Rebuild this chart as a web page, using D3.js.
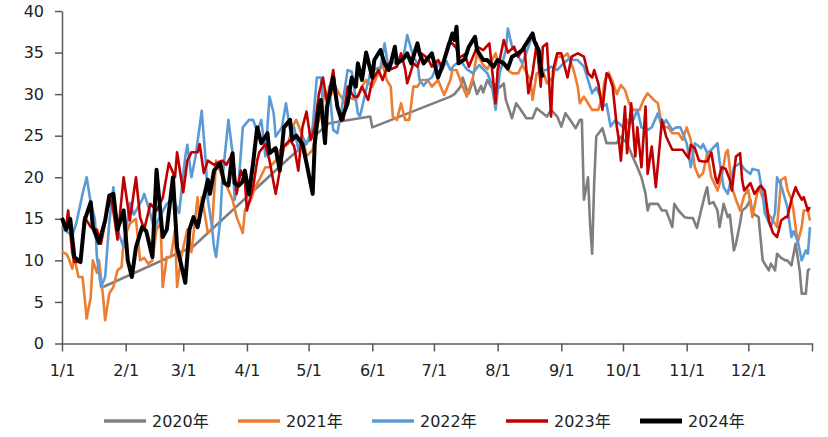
<!DOCTYPE html>
<html>
<head>
<meta charset="utf-8">
<script src="https://cdn.jsdelivr.net/npm/d3@7"></script>
<style>
body { margin: 0; background: #fff; }
text { font-family: "DejaVu Sans", "Noto Sans CJK SC", sans-serif; }
</style>
</head>
<body>
<div id="chart"></div>
<script>
// each point is [day of year (0 = 1/1), value]
var s2020 = [[20,6.8],[64,11.7],[110,22.2],[130,26.5],[150,27.3],[151,26],[189,29.7],[191,30],[194,30.9],[195,32],[197,30.5],[198,30.1],[200,31.7],[202,30],[204,31],[205,30.2],[207,31.7],[209,30.8],[211,31.2],[213,30.8],[215,31.3],[216,29.3],[219,27.1],[221,28.9],[223,28.2],[226,27.1],[229,27.1],[231,28.3],[234,27.7],[236,27.3],[238,28.1],[241,27.3],[243,26.1],[245,27.7],[247,27],[250,25.9],[252,26.9],[253,26.9],[254,17.3],[256,20],[257,14.4],[258,10.8],[259,19.3],[260,24.9],[263,25.9],[265,24.1],[268,24.1],[270,24.1],[272,24.9],[275,24.1],[277,22.9],[280,21.2],[282,20],[284,18],[285,16],[286,16.8],[290,16.8],[292,16],[294,16],[297,14],[298,16.8],[300,16],[303,15.2],[305,15.1],[307,15.1],[309,13.9],[311,16],[313,18],[314,18.8],[315,16.8],[317,17],[319,16],[320,14],[322,16.8],[324,15.2],[325,15.5],[327,11.2],[328,12],[330,14.5],[331,16],[333,16.4],[335,17.3],[336,15.7],[339,15.2],[341,10],[342,9.6],[344,8.8],[345,9.6],[347,8.8],[348,10.8],[350,10.3],[352,10],[353,10],[355,9.4],[357,12],[359,8.8],[360,6],[362,6],[363,8.8],[364,9]];

var s2021 = [[0,11],[2,10.8],[3,10.4],[5,9],[6,10.4],[8,8],[10,8],[11,5.6],[12,3],[14,5.6],[15,10],[17,8.5],[18,10],[20,5.6],[21,2.8],[23,6],[25,6.8],[27,8.8],[29,9.2],[30,12.4],[33,14.4],[36,15],[38,10],[40,10.3],[42,9.6],[44,10],[46,13.7],[48,14.5],[49,6.8],[51,10.4],[53,10.4],[55,13.7],[56,6.8],[58,10.4],[61,13.7],[63,11],[66,17.6],[67,14.5],[68,17.6],[70,14.8],[71,13.3],[73,13.8],[75,22],[78,20],[80,19],[83,17.3],[85,15.2],[88,13.3],[89,16],[92,17.3],[94,18.8],[96,19.7],[99,21.2],[101,21.2],[104,22],[106,23.3],[110,24],[112,26],[114,26.9],[117,25],[119,22.5],[122,23.3],[124,26],[126,27.7],[128,30.5],[130,29.5],[133,30.9],[135,30],[138,28.9],[140,29.6],[143,29.3],[146,30.9],[148,31.7],[151,30.9],[153,32],[156,33.7],[158,31.7],[160,30.9],[161,27.3],[163,26.9],[165,28.9],[167,26.9],[169,26.9],[171,30.9],[173,30.9],[175,31.7],[178,31.7],[180,30.9],[183,31.7],[186,29.9],[189,31.7],[190,32.9],[192,32.9],[195,30.9],[197,29.7],[200,32],[202,34.9],[205,33.5],[207,33],[211,34.9],[213,32.9],[215,33.8],[217,32.9],[219,32.5],[222,32.5],[224,33.5],[228,31.7],[229,29.3],[231,32.5],[234,32.9],[236,31.3],[239,32],[241,34.5],[244,34.5],[246,34.9],[249,32.9],[251,30.9],[252,28.9],[254,29.7],[256,28.9],[258,28.1],[261,28.1],[263,29.7],[264,31.5],[266,32.6],[268,31.5],[270,30],[272,31.1],[274,30.5],[276,28.9],[278,28.1],[281,28.1],[283,29.3],[285,30.1],[288,29.3],[290,28.9],[292,26.1],[295,26],[297,25.3],[300,25.3],[302,24.5],[304,26],[306,24.5],[308,21.2],[310,20],[312,20.5],[314,22.9],[316,20],[318,19],[319,18.4],[321,20],[323,22.9],[324,23.3],[326,18.8],[328,17.3],[330,16],[332,17.8],[334,18.5],[336,15.2],[337,16.5],[339,18.8],[341,17.6],[343,15.7],[345,15.2],[348,14],[350,19.7],[352,20],[353,18.5],[355,17.3],[356,16],[358,12.1],[360,14],[361,16],[363,16],[364,14.8]];

var s2022 = [[0,14],[1,13.7],[5,13],[7,14.5],[10,18],[12,20],[14,16.9],[16,15],[17,10.4],[19,6.8],[21,8],[23,14.5],[25,18.8],[27,13.6],[30,11.6],[33,16.9],[35,15.5],[39,17.3],[40,18],[42,16.5],[45,13.7],[47,15],[51,16.8],[54,17.5],[57,15.7],[60,22.5],[61,23.9],[63,20],[65,22.5],[68,28],[70,21.7],[71,17.3],[73,14],[74,11.6],[75,10.4],[77,14.8],[78,19.7],[81,26.9],[83,22.9],[84,17.3],[86,19.5],[88,26],[91,26.9],[93,26.9],[95,25.5],[97,26.9],[99,22.5],[101,29.7],[103,27.7],[104,24.9],[107,26],[109,28.9],[111,25.7],[113,26],[115,23.3],[117,24.9],[119,24],[122,26],[124,32],[126,32],[128,24.9],[130,30.9],[132,25.7],[134,25.3],[136,28],[139,32.9],[141,32.7],[144,27.7],[145,27.3],[148,30.5],[150,32.5],[152,33],[155,33.2],[157,36.1],[159,32.9],[161,34],[163,33.5],[166,34.2],[168,37.1],[171,34.5],[173,33.7],[174,31.7],[176,31],[178,31.7],[180,32],[183,33.7],[185,32.9],[187,34],[189,32.9],[191,33.5],[194,34],[197,33],[200,32.5],[203,33.5],[207,32.5],[209,31.3],[211,28.1],[213,32.5],[216,35.3],[217,37.9],[219,35.7],[221,35],[224,33.7],[226,35],[229,37.1],[231,35.7],[234,32.9],[236,32.9],[238,33.3],[241,32.9],[244,33.7],[247,34.3],[249,34.1],[251,34.1],[254,33.3],[256,31.7],[258,30.1],[260,30.8],[262,29.7],[263,28.5],[265,28.8],[267,26.1],[269,26.8],[271,26.5],[273,26],[275,26.9],[276,26.3],[278,26.9],[280,28.1],[282,26],[285,25.7],[287,26],[290,27.7],[292,26],[294,26.9],[297,25.7],[299,26],[301,26],[304,24.1],[306,21.2],[308,24.1],[311,23.5],[312,24],[314,22.9],[316,23.3],[319,24.1],[320,22],[322,18.8],[324,18],[327,21.2],[330,21.7],[332,21],[335,20.4],[336,21],[339,20.8],[341,18],[342,15.7],[345,14],[347,15.7],[348,20],[350,19],[353,16.4],[355,12.8],[356,13.5],[358,12.4],[360,10],[362,11.2],[363,10.8],[364,14]];

var s2023 = [[0,15.1],[2,14],[3,16],[5,10.9],[6,9.8],[9,9.8],[11,15.2],[14,14],[17,13.7],[19,12],[22,16],[24,17.6],[27,12.5],[30,20],[33,14.8],[36,20],[38,15.2],[40,13.7],[43,16.8],[46,16],[49,17.5],[52,21.7],[55,20],[56,23],[59,18.2],[61,22],[63,23],[66,23],[67,24],[69,20.5],[71,22],[74,21.5],[76,21.8],[78,22],[80,21.5],[83,22.9],[85,18],[87,20.8],[89,19.7],[90,16],[93,18.8],[95,22],[96,23],[99,24],[101,22],[103,19.3],[104,18],[106,20.8],[108,23.7],[111,24.5],[113,23.7],[115,20.8],[117,26],[119,27.9],[121,24.5],[123,26],[125,30],[127,32],[129,28.9],[132,32.9],[134,28.5],[137,26.9],[139,30.9],[142,29.7],[144,29.7],[146,30.9],[149,29.3],[151,31.7],[154,32.9],[156,31.7],[159,33.7],[160,33],[163,33.3],[165,34.9],[167,33],[168,31.3],[171,33.7],[173,33.3],[175,34.9],[178,34.3],[180,33.3],[183,34.1],[185,33.3],[188,36.1],[190,36.1],[192,35.5],[193,34.3],[196,34.8],[198,33.3],[202,35.7],[205,35.3],[208,36.1],[211,28.9],[212,32.9],[215,36.5],[217,35],[220,35.7],[222,34.5],[225,35.7],[227,30.1],[229,32.5],[231,36.1],[233,30.9],[234,35.7],[236,36.1],[238,27.3],[239,32.9],[241,34.9],[243,34.9],[246,32],[248,34.5],[251,34.9],[254,34.5],[256,32.5],[258,32],[259,32.9],[261,31.3],[263,28.1],[265,32.5],[266,32.3],[268,30.9],[270,26.1],[271,24.5],[272,22],[274,28.5],[275,22.9],[277,28.9],[279,22.5],[280,26],[282,21.2],[284,28.5],[285,20.4],[287,23.7],[289,18.8],[292,26.9],[294,24.9],[297,23.3],[299,23.3],[302,23.3],[305,22.3],[306,23.9],[308,23.5],[310,22],[312,21.9],[314,21.9],[316,23],[318,20],[319,19.3],[321,21.2],[323,21],[325,19.7],[326,18.4],[328,22.5],[330,22.9],[331,19.7],[332,18.4],[335,19.3],[337,18],[340,19],[342,18.4],[344,14.8],[346,13.3],[348,12.8],[350,14.8],[352,15.2],[353,15.2],[355,17.3],[357,18.8],[358,18.2],[360,17.3],[361,17.6],[363,16],[364,16.4]];

var s2024 = [[0,15.1],[2,13.7],[4,15],[6,10.4],[9,9.8],[11,14.8],[14,17],[15,14],[18,12.1],[21,14.8],[23,17.8],[25,18],[27,13.7],[30,16],[32,10],[34,8],[36,11.6],[39,14],[41,13.5],[44,10.4],[46,20.9],[49,12.8],[51,13.7],[54,20],[56,11.6],[60,7.3],[62,13.7],[64,15.2],[66,14],[68,16.5],[71,19.7],[72,18],[74,20.8],[77,21.7],[79,19.3],[81,19],[83,22.9],[84,19.3],[86,19],[88,19.5],[89,20.8],[91,18],[93,21.7],[95,26],[97,24.1],[100,25.3],[101,22.9],[104,23.5],[106,20.8],[108,26],[111,26.9],[112,24.5],[114,25],[117,24],[119,21.7],[122,18],[123,24],[125,28.5],[126,29.3],[128,24.1],[129,28.5],[132,32],[134,28.5],[136,26.9],[139,28.9],[141,32],[143,30.9],[144,33.7],[146,31.7],[148,35],[151,32],[152,34.1],[155,35.3],[157,33.7],[159,32.9],[160,33.7],[162,35.7],[163,33.7],[166,34.2],[168,34.9],[170,33.7],[173,36.1],[174,34.9],[176,33.7],[178,34.3],[180,34.9],[183,32],[185,33.3],[188,35.7],[190,37.3],[191,36.5],[192,38.1],[193,33.7],[196,34.2],[198,35.7],[201,36.9],[202,35.3],[205,34.1],[207,34.1],[210,33.3],[212,34.1],[215,33.7],[217,33.1],[219,34.5],[222,34.9],[224,35.3],[227,36.5],[229,37.3],[230,36.3],[232,35.3],[233,32.9],[234,32]];

var yTicks = [0, 5, 10, 15, 20, 25, 30, 35, 40];
var xTickLabels = ["1/1", "2/1", "3/1", "4/1", "5/1", "6/1", "7/1", "8/1", "9/1", "10/1", "11/1", "12/1", ""];
var seriesNames = ["2020年", "2021年", "2022年", "2023年", "2024年"];

var series = [
	{ name: seriesNames[0], data: s2020, color: "#7f7f7f", width: 2.6 },
	{ name: seriesNames[1], data: s2021, color: "#ed7d31", width: 2.6 },
	{ name: seriesNames[2], data: s2022, color: "#5b9bd5", width: 2.6 },
	{ name: seriesNames[3], data: s2023, color: "#c00000", width: 2.6 },
	{ name: seriesNames[4], data: s2024, color: "#000000", width: 4 }
];

var width = 828, height = 437;
var margin = { top: 11, right: 16, bottom: 93.5, left: 62 };
var w = width - margin.left - margin.right;
var h = height - margin.top - margin.bottom;

var svg = d3.select("#chart").append("svg")
	.attr("width", width)
	.attr("height", height);

var g = svg.append("g").attr("transform", "translate(" + margin.left + "," + margin.top + ")");

var start = new Date(2021, 0, 1), end = new Date(2022, 0, 1);
var x = d3.scaleTime().domain([start, end]).range([0, w]);
var y = d3.scaleLinear().domain([0, 40]).range([h, 0]);

function dayToDate(d){ return d3.timeDay.offset(start, d); }

var monthTicks = d3.timeMonth.range(start, d3.timeDay.offset(end, 1));

g.append("g")
	.attr("class", "axis")
	.attr("transform", "translate(0," + h + ")")
	.call(d3.axisBottom(x)
		.tickValues(monthTicks)
		.tickFormat(function(d, i){ return xTickLabels[i]; })
		.tickSize(8)
		.tickSizeOuter(0)
		.tickPadding(13));

g.append("g")
	.attr("class", "axis")
	.call(d3.axisLeft(y)
		.tickValues(yTicks)
		.tickSize(7)
		.tickSizeOuter(0)
		.tickPadding(11));

g.selectAll(".axis path, .axis line")
	.attr("stroke", "#595959")
	.attr("stroke-width", 1.5);
g.selectAll(".axis text")
	.attr("fill", "#222")
	.style("font-size", "16px");

var line = d3.line()
	.x(function(d){ return x(dayToDate(d[0])); })
	.y(function(d){ return y(d[1]); });

g.append("g")
	.attr("class", "lines")
	.selectAll("path")
	.data(series)
	.enter().append("path")
	.attr("fill", "none")
	.attr("stroke", function(s){ return s.color; })
	.attr("stroke-width", function(s){ return s.width; })
	.attr("stroke-linejoin", "round")
	.attr("d", function(s){ return line(s.data); });

// legend
var legend = svg.append("g")
	.attr("class", "legend")
	.attr("transform", "translate(104,421)");

var item = legend.selectAll("g")
	.data(series)
	.enter().append("g")
	.attr("transform", function(s, i){ return "translate(" + (i * 134) + ",0)"; });

item.append("line")
	.attr("x1", 0)
	.attr("x2", 42)
	.attr("stroke", function(s){ return s.color; })
	.attr("stroke-width", function(s){ return s.width + 1; });

item.append("text")
	.attr("x", 48)
	.attr("dy", "0.35em")
	.attr("fill", "#222")
	.style("font-size", "16px")
	.text(function(s){ return s.name; });
</script>
</body>
</html>
